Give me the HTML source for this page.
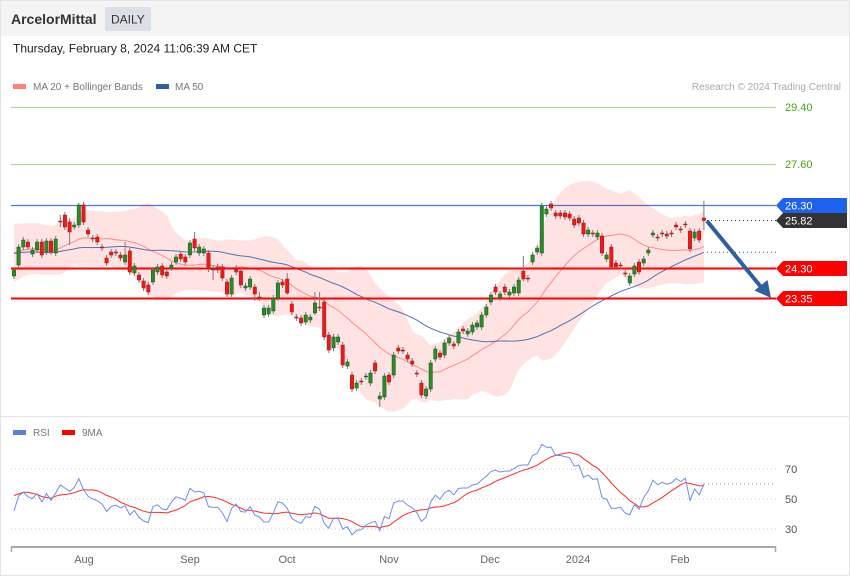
<!DOCTYPE html>
<html><head><meta charset="utf-8">
<style>
html,body{margin:0;padding:0;background:#fff;}
body{width:850px;height:576px;overflow:hidden;font-family:"Liberation Sans",Arial,sans-serif;}
svg{display:block;}
</style></head>
<body>
<svg id="chart" width="850" height="576" viewBox="0 0 850 576" xmlns="http://www.w3.org/2000/svg" font-family="Liberation Sans, Arial, sans-serif">
<rect x="0" y="0" width="850" height="576" fill="#ffffff"/>
<rect x="0" y="0" width="850" height="36" fill="#f4f4f4"/>
<rect x="0.5" y="0.5" width="849" height="575" fill="none" stroke="#e4e4e4" stroke-width="1"/>
<line x1="0" y1="416.5" x2="850" y2="416.5" stroke="#e4e4e4" stroke-width="1"/>
<text x="11" y="24" font-size="14" font-weight="bold" fill="#333">ArcelorMittal</text>
<rect x="105" y="7" width="46" height="24" rx="2" fill="#dcdfe5"/>
<text x="111" y="23.5" font-size="12" fill="#333">DAILY</text>
<text x="13" y="52.5" font-size="12" fill="#222">Thursday, February 8, 2024 11:06:39 AM CET</text>
<rect x="13" y="84" width="13" height="5" fill="#ff8080"/>
<text x="33" y="90" font-size="10" fill="#777">MA 20 + Bollinger Bands</text>
<rect x="156" y="84" width="13" height="5" fill="#2f5ea3"/>
<text x="175" y="90" font-size="10" fill="#777">MA 50</text>
<text x="841" y="90" font-size="10" fill="#aaa" text-anchor="end">Research © 2024 Trading Central</text>

<!-- green resistance lines -->
<line x1="11" y1="107.5" x2="776" y2="107.5" stroke="#aed99a" stroke-width="1.2"/>
<line x1="11" y1="164.5" x2="776" y2="164.5" stroke="#aed99a" stroke-width="1.2"/>
<text x="785" y="111" font-size="11" fill="#4ea318">29.40</text>
<text x="785" y="168" font-size="11" fill="#4ea318">27.60</text>
<!-- blue line -->
<line x1="11" y1="205.5" x2="776" y2="205.5" stroke="#4a78d6" stroke-width="1.2"/>

<g id="band"></g>
<g id="mas"></g>
<line x1="11" y1="268.5" x2="776" y2="268.5" stroke="#ff0000" stroke-width="2"/>
<line x1="11" y1="298.5" x2="776" y2="298.5" stroke="#ff0000" stroke-width="2"/>
<g id="candles"></g>
<g id="ext"></g>

<!-- dotted last price line -->
<line x1="707" y1="220.5" x2="776" y2="220.5" stroke="#333" stroke-width="1" stroke-dasharray="1,3"/>

<!-- labels -->
<polygon points="776,205.5 783,198 847,198 847,213 783,213" fill="#1f62ee"/>
<text x="785" y="209.5" font-size="11" fill="#fff">26.30</text>
<polygon points="776,220.5 783,213 847,213 847,228 783,228" fill="#333333"/>
<text x="785" y="224.5" font-size="11" fill="#fff">25.82</text>
<polygon points="776,268.5 783,261 847,261 847,276 783,276" fill="#ff0000"/>
<text x="785" y="272.5" font-size="11" fill="#fff">24.30</text>
<polygon points="776,298.5 783,291 847,291 847,306 783,306" fill="#ff0000"/>
<text x="785" y="302.5" font-size="11" fill="#fff">23.35</text>

<!-- arrow -->
<line x1="707" y1="221" x2="761" y2="287" stroke="#2f5f9f" stroke-width="4"/>
<polygon points="771,298 754.5,290.5 767.5,280" fill="#2f5f9f"/>

<!-- RSI panel -->
<rect x="13" y="430" width="13" height="5" fill="#5b7fe0"/>
<text x="33" y="436" font-size="10" fill="#777">RSI</text>
<rect x="62" y="430" width="13" height="5" fill="#ff0000"/>
<text x="82" y="436" font-size="10" fill="#777">9MA</text>
<line x1="11" y1="469" x2="776" y2="469" stroke="#c8c8c8" stroke-width="1" stroke-dasharray="1,3"/>
<line x1="11" y1="499" x2="776" y2="499" stroke="#c8c8c8" stroke-width="1" stroke-dasharray="1,3"/>
<line x1="11" y1="529" x2="776" y2="529" stroke="#c8c8c8" stroke-width="1" stroke-dasharray="1,3"/>
<text x="785" y="473" font-size="11" fill="#555">70</text>
<text x="785" y="503" font-size="11" fill="#555">50</text>
<text x="785" y="533" font-size="11" fill="#555">30</text>
<g id="rsi"></g>
<line x1="11" y1="547" x2="776" y2="547" stroke="#aaaaaa" stroke-width="2"/>
<line x1="11.5" y1="546" x2="11.5" y2="552" stroke="#aaaaaa" stroke-width="1.5"/>
<line x1="775.5" y1="546" x2="775.5" y2="552" stroke="#aaaaaa" stroke-width="1.5"/>
<g font-size="11" fill="#666" text-anchor="middle">
<text x="84" y="563">Aug</text>
<text x="190" y="563">Sep</text>
<text x="287" y="563">Oct</text>
<text x="389" y="563">Nov</text>
<text x="490" y="563">Dec</text>
<text x="578" y="563">2024</text>
<text x="680" y="563">Feb</text>
</g>
</svg>
<script>
(function(){
var D=[
[276,270],[265,247],[247,240],[242,247],[254,250],[250,242],[242,255],[252,241],[241,252],[253,239],
[221,222,215,227],[215,227],[222,232,218,245],[227,225],[225,205,203,228],[205,222],[230,234],[238,239],[237,242],[247,248],
[258,263],[252,255],[252,253],[255,258],[262,255,242,265],[251,272],[273,266],[275,280],[281,288],[285,292],
[282,270],[272,267],[266,275],[272,276],[268,265],[262,257],[254,259],[257,262],[255,243],[239,248,232,251],
[253,247],[253,249],[253,269],[269,270,265,280],[267,270],[267,278],[282,294],[294,278],[268,272],[271,285],
[288,286],[287,279],[287,294,284,301],[297,298,292,301],[315,308],[314,308],[311,298],[298,283],[282,285],[279,293,273,295],
[304,312],[317,318],[318,323],[322,315],[320,317],[313,303,292,315],[307,308,292,311],[302,337],[335,350],[348,337],
[342,337],[345,365],[366,362],[375,389],[388,383],[381,382],[377,376],[383,373],[363,371],[399,396,392,407],
[397,376],[375,382],[375,355],[348,351],[350,351],[355,359],[361,364],[373,374],[383,395],[396,389],
[389,363],[359,349],[353,357],[355,343],[343,338],[344,346],[343,332],[329,331],[334,331],[332,325],
[327,323],[327,315],[315,307],[302,295],[287,292],[298,294],[287,292],[295,292],[293,287],[293,280],
[271,279,256,281],[278,279],[262,255],[252,248],[253,206],[214,209],[204,208],[213,216],[213,216],[213,217],
[214,218],[219,225],[218,223],[223,234],[234,230],[233,234],[237,233],[236,253],[259,255],[247,267],
[263,267],[265,266],[273,274],[283,276],[274,266],[262,272],[263,259],[253,250],[235,233],[237,238],
[233,234],[234,236],[233,234],[225,227],[229,230],[224,225],[231,249],[238,232],[231,240],[218,220.5,201,230]
];
var N=D.length, X0=14, DX=4.63;
function X(i){return X0+i*DX;}
function f(v){return v.toFixed(1);}
var pre=[];
for(var k=0;k<50;k++){pre.push(254+19*Math.sin(k*0.62+0.8)-(k>40?(k-40)*0.6:0));}
var all=pre.concat(D.map(function(d){return d[1];}));
var P=pre.length;
var up=[],lo=[],m20=[],m50=[];
for(var i=0;i<N;i++){
  var j=i+P,s=0,q=0;
  for(var t=j-19;t<=j;t++){s+=all[t];}
  var m=s/20;
  for(t=j-19;t<=j;t++){q+=(all[t]-m)*(all[t]-m);}
  var sd=Math.sqrt(q/20);
  m20.push(m);up.push(m-2*sd);lo.push(m+2*sd);
  s=0;for(t=j-49;t<=j;t++){s+=all[t];}
  m50.push(s/50);
}
// band
var pts=[];
for(i=0;i<N;i++)pts.push(f(X(i))+","+f(up[i]));
for(i=N-1;i>=0;i--)pts.push(f(X(i))+","+f(lo[i]));
document.getElementById("band").innerHTML='<polygon points="'+pts.join(" ")+'" fill="#ff0000" fill-opacity="0.11" stroke="none"/>';
function pl(arr,col,w,op){var p=[];for(var i=0;i<arr.length;i++)p.push(f(X(i))+","+f(arr[i]));return '<polyline points="'+p.join(" ")+'" fill="none" stroke="'+col+'" stroke-width="'+w+'" stroke-opacity="'+(op||1)+'"/>';}
document.getElementById("mas").innerHTML=pl(m20,"#ff7a7a",1,0.85)+pl(m50,"#4a6aa8",1,0.95);
// candles
var h='';
for(i=0;i<N;i++){
  var d=D[i],o=d[0],c=d[1],top=Math.min(o,c),bot=Math.max(o,c);
  if(bot-top<1)bot=top+1;
  var hi=(d.length>2)?d[2]:top-3, lw=(d.length>3)?d[3]:bot+3;
  var cx=X(i), g=c<o;
  h+='<line x1="'+f(cx)+'" y1="'+f(hi)+'" x2="'+f(cx)+'" y2="'+f(lw)+'" stroke="#7a7a7a" stroke-width="1"/>';
  h+='<rect x="'+f(cx-1.7)+'" y="'+f(top)+'" width="3.4" height="'+f(bot-top)+'" fill="'+(g?'#2b8a2b':'#ea1a1a')+'" stroke="'+(g?'#17561a':'#b01010')+'" stroke-width="0.5"/>';
}
document.getElementById("candles").innerHTML=h;
var lm=m50[N-1];
document.getElementById("ext").innerHTML='<line x1="707" y1="'+f(lm)+'" x2="776" y2="'+f(lm)+'" stroke="#2f5ea3" stroke-width="1" stroke-dasharray="1,3"/>';
// RSI
var rs=[],ag=0,al=0,n=14;
for(var t=1;t<=n;t++){var ch=all[t-1]-all[t];if(ch>0)ag+=ch;else al-=ch;}
ag/=n;al/=n;
var rsiAll=[];
for(t=0;t<all.length;t++){
  if(t>n){var ch2=all[t-1]-all[t];var gg=ch2>0?ch2:0,ll=ch2<0?-ch2:0;ag=(ag*(n-1)+gg)/n;al=(al*(n-1)+ll)/n;}
  var r=al===0?100:100-100/(1+ag/al);
  rsiAll.push(r);
}
var ry=[],my=[];
for(i=0;i<N;i++){
  var jj=i+P;ry.push(499-(rsiAll[jj]-50)*1.5);
  var ss=0;for(var u=jj-8;u<=jj;u++)ss+=rsiAll[u];
  my.push(499-(ss/9-50)*1.5);
}
var lr=ry[N-1];
document.getElementById("rsi").innerHTML=pl(my,"#ff2a2a",1)+pl(ry,"#6f8fe6",1)+
 '<line x1="704" y1="'+f(lr)+'" x2="776" y2="'+f(lr)+'" stroke="#6f8fe6" stroke-width="1" stroke-dasharray="1,3"/>';
})();
</script>
</body></html>
